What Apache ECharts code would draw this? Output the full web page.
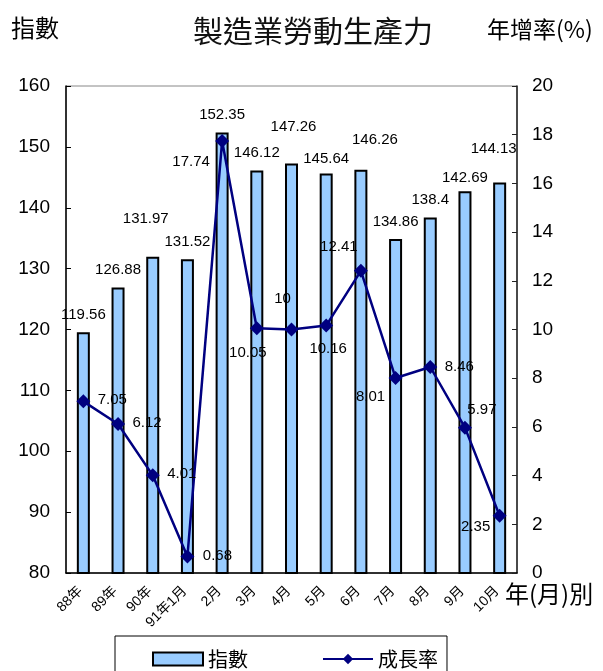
<!DOCTYPE html>
<html>
<head>
<meta charset="utf-8">
<script src="https://cdn.jsdelivr.net/npm/echarts@6/dist/echarts.min.js"></script>
<style>
  html, body { margin: 0; padding: 0; background: #fff; }
  #chart { width: 603px; height: 671px; }
</style>
</head>
<body>
<div id="chart"></div>
<script>
// 製造業勞動生產力：指數 (左軸) 與 年增率 (右軸)
const categories = ['88年', '89年', '90年', '91年1月', '2月', '3月', '4月', '5月', '6月', '7月', '8月', '9月', '10月'];
const indexValues = [119.56, 126.88, 131.97, 131.52, 152.35, 146.12, 147.26, 145.64, 146.26, 134.86, 138.4, 142.69, 144.13];
const growthValues = [7.05, 6.12, 4.01, 0.68, 17.74, 10.05, 10, 10.16, 12.41, 8.01, 8.46, 5.97, 2.35];

const leftTicks = { min: 80, max: 160, interval: 10 };
const rightTicks = { min: 0, max: 20, interval: 2 };

// Label nudges (pixels) so the value texts sit clear of the marks
const barLabelNudge = [[0, 0], [0, 0], [-7, -20], [0, 0], [0, 0], [0, 0], [2, -19], [0, 3], [14, -12], [0, 0], [0, 0], [0, 4], [-6, -16]];
const lineLabelNudge = [[29, -1], [29, -1], [29, -1], [30, -1], [-31, 21], [-9, 25], [-9, -31], [2, 23], [-22, -24], [-25, 19], [29, 0], [17, -18], [-24, 11]];

const FONT = "'Liberation Sans', Arial, 'Noto Sans CJK TC', sans-serif";
const CJK = "'Noto Sans CJK TC', 'Liberation Sans', sans-serif";

const chart = echarts.init(document.getElementById('chart'), null, { renderer: 'canvas' });

const barData = indexValues.map((v, i) => ({
  value: v,
  label: { offset: barLabelNudge[i] }
}));
const lineData = growthValues.map((v, i) => ({
  value: v,
  label: { offset: lineLabelNudge[i] }
}));

chart.setOption({
  animation: false,
  backgroundColor: '#fff',
  textStyle: { fontFamily: FONT },
  title: {
    text: '製造業勞動生產力',
    left: 308,
    top: 11,
    textAlign: 'center',
    textStyle: { fontFamily: CJK, fontSize: 30, fontWeight: 'normal', color: '#111' }
  },
  graphic: [
    { type: 'text', left: 11, top: 16, style: { text: '指數', font: "24px 'Noto Sans CJK TC'", fill: '#000' } },
    { type: 'text', left: 487, top: 18, style: { text: '年增率(%)', font: "23px 'Noto Sans CJK TC', 'Liberation Sans'", fill: '#000' } },
    { type: 'text', left: 505, top: 582, style: { text: '年(月)別', font: "24px 'Noto Sans CJK TC', 'Liberation Sans'", fill: '#000' } }
  ],
  legend: {
    left: 115,
    top: 636,
    padding: [13, 9, 40, 37],
    itemGap: 74,
    itemWidth: 50,
    itemHeight: 13,
    backgroundColor: '#fff',
    borderColor: '#000',
    borderWidth: 1,
    textStyle: { fontFamily: CJK, fontSize: 20, color: '#000' },
    data: [{ name: '指數', icon: 'rect' }, { name: '成長率' }]
  },
  grid: {
    left: 66,
    right: 86,
    top: 86,
    bottom: 98,
    show: true,
    borderColor: '#888',
    borderWidth: 1,
    backgroundColor: 'transparent'
  },
  xAxis: {
    type: 'category',
    data: categories,
    boundaryGap: true,
    axisLine: { lineStyle: { color: '#000', width: 1.5 } },
    axisTick: { inside: true, length: 5, lineStyle: { color: '#000' } },
    axisLabel: {
      rotate: 45,
      margin: 13,
      fontSize: 14,
      color: '#000',
      fontFamily: FONT,
      padding: [0, 4, 0, 0],
      interval: 0
    }
  },
  yAxis: [
    {
      type: 'value',
      min: leftTicks.min,
      max: leftTicks.max,
      interval: leftTicks.interval,
      axisLine: { show: true, lineStyle: { color: '#000', width: 1.5 } },
      axisTick: { show: true, inside: true, length: 5, lineStyle: { color: '#000' } },
      splitLine: { show: false },
      axisLabel: { fontSize: 19, color: '#000', margin: 16, fontFamily: FONT }
    },
    {
      type: 'value',
      min: rightTicks.min,
      max: rightTicks.max,
      interval: rightTicks.interval,
      position: 'right',
      axisLine: { show: true, lineStyle: { color: '#222', width: 1.5 } },
      axisTick: { show: true, inside: true, length: 5, lineStyle: { color: '#222' } },
      splitLine: { show: false },
      axisLabel: { fontSize: 19, color: '#000', margin: 15, fontFamily: FONT }
    }
  ],
  series: [
    {
      name: '指數',
      type: 'bar',
      yAxisIndex: 0,
      data: barData,
      barWidth: 13,
      itemStyle: { color: '#99CCFF', borderColor: '#000', borderWidth: 2 },
      label: {
        show: true,
        position: 'top',
        distance: 10,
        fontSize: 15,
        color: '#000',
        fontFamily: FONT
      },
      z: 2
    },
    {
      name: '成長率',
      type: 'line',
      yAxisIndex: 1,
      data: lineData,
      symbol: 'diamond',
      symbolSize: 14,
      lineStyle: { color: '#000080', width: 2.5 },
      itemStyle: { color: '#000080' },
      label: {
        show: true,
        position: 'inside',
        fontSize: 15,
        color: '#000',
        fontFamily: FONT
      },
      z: 3
    }
  ]
});
</script>
</body>
</html>
